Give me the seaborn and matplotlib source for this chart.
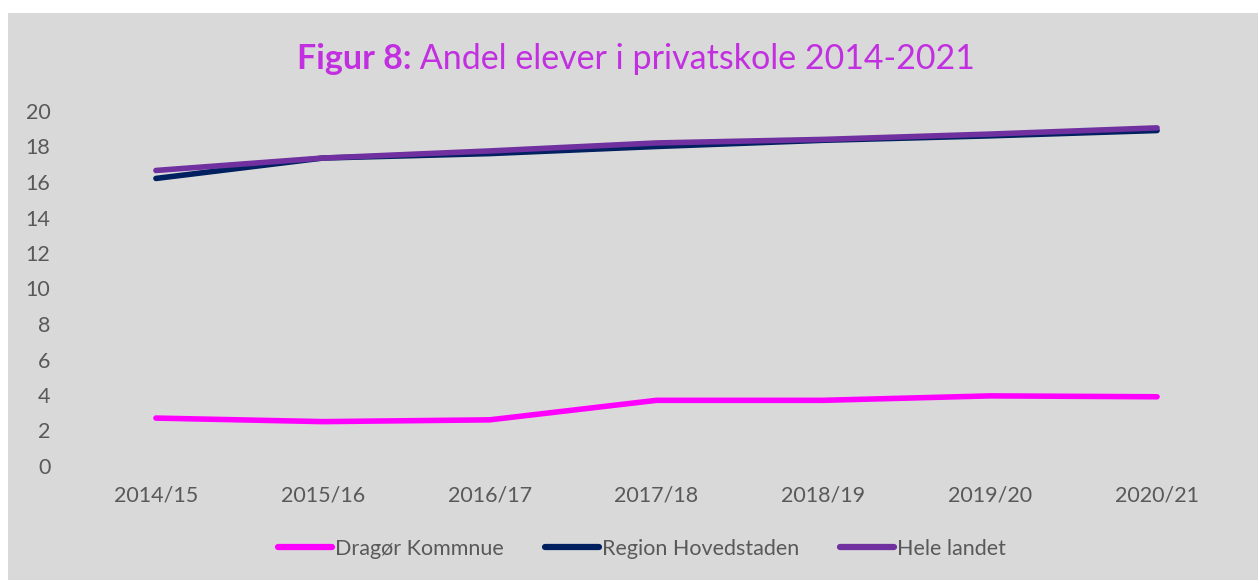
import numpy as np
import pandas as pd
import matplotlib
matplotlib.use("Agg")
import matplotlib.pyplot as plt
import seaborn as sns
from matplotlib.patches import Rectangle

# -------------------------------
# DATA
# -------------------------------
years = ["2014/15", "2015/16", "2016/17", "2017/18", "2018/19", "2019/20", "2020/21"]
dragor = [2.7, 2.5, 2.6, 3.7, 3.7, 3.95, 3.9]
region = [16.2, 17.35, 17.6, 18.0, 18.35, 18.6, 18.9]
hele = [16.65, 17.35, 17.75, 18.2, 18.4, 18.7, 19.05]

series_names = ["Dragør Kommnue", "Region Hovedstaden", "Hele landet"]
colors = ["#FF00FF", "#002060", "#7030A0"]

df = pd.DataFrame({
    "year": years * 3,
    "value": dragor + region + hele,
    "serie": np.repeat(series_names, len(years)),
})

sns.set_theme(style="white")
plt.rcParams["font.family"] = ["Lato", "DejaVu Sans"]

txt_col = "#595959"
bg = "#D9D9D9"
fs = 15.5

fig = plt.figure(figsize=(12.58, 5.8), dpi=100)
fig.patch.set_facecolor("white")
fig.patches.append(Rectangle((8 / 1258, 0), 1 - 8 / 1258, 1 - 13 / 580,
                             transform=fig.transFigure, facecolor=bg,
                             edgecolor="none", zorder=-5))

ax = fig.add_axes([72.5 / 1258, (580 - 466) / 580, (1240.5 - 72.5) / 1258, (466 - 111) / 580])
ax.set_facecolor(bg)

sns.lineplot(data=df, x="year", y="value", hue="serie", hue_order=series_names,
             palette=colors, sort=False, linewidth=4.0, ax=ax, legend=False,
             solid_capstyle="round")

ax.set_xlim(-0.5, len(years) - 0.5)
ax.set_ylim(0, 20)
ax.set_yticks(range(0, 21, 2))
ax.set_xlabel("")
ax.set_ylabel("")
for s in ax.spines.values():
    s.set_visible(False)
ax.tick_params(axis="y", length=0, pad=16, labelsize=fs, labelcolor=txt_col)
ax.tick_params(axis="x", length=0, pad=14, labelsize=fs, labelcolor=txt_col)

# title with bold prefix
t1 = fig.text(0, 0, "Figur 8:", fontsize=24.5, fontweight="bold", color="#C22FE0", va="center")
t2 = fig.text(0, 0, " Andel elever i privatskole 2014-2021", fontsize=24.5, color="#C22FE0", va="center")
fig.canvas.draw()
r = fig.canvas.get_renderer()
w1 = t1.get_window_extent(r).width
w2 = t2.get_window_extent(r).width
x0 = (636 * 2 - (w1 + w2)) / 2 / 1258
ty = 1 - 59 / 580
t1.set_position((x0, ty))
t2.set_position((x0 + w1 / 1258, ty))

# legend
handles = [plt.Line2D([0], [0], color=c, lw=4.5, solid_capstyle="round") for c in colors]
leg = fig.legend(handles, series_names, loc="center", bbox_to_anchor=(642 / 1258, 1 - 549 / 580),
                 ncol=3, frameon=False, fontsize=fs, handlelength=2.5,
                 handletextpad=0.15, columnspacing=1.9)
for t in leg.get_texts():
    t.set_color(txt_col)

fig.savefig("out.png", dpi=100, facecolor="white")
